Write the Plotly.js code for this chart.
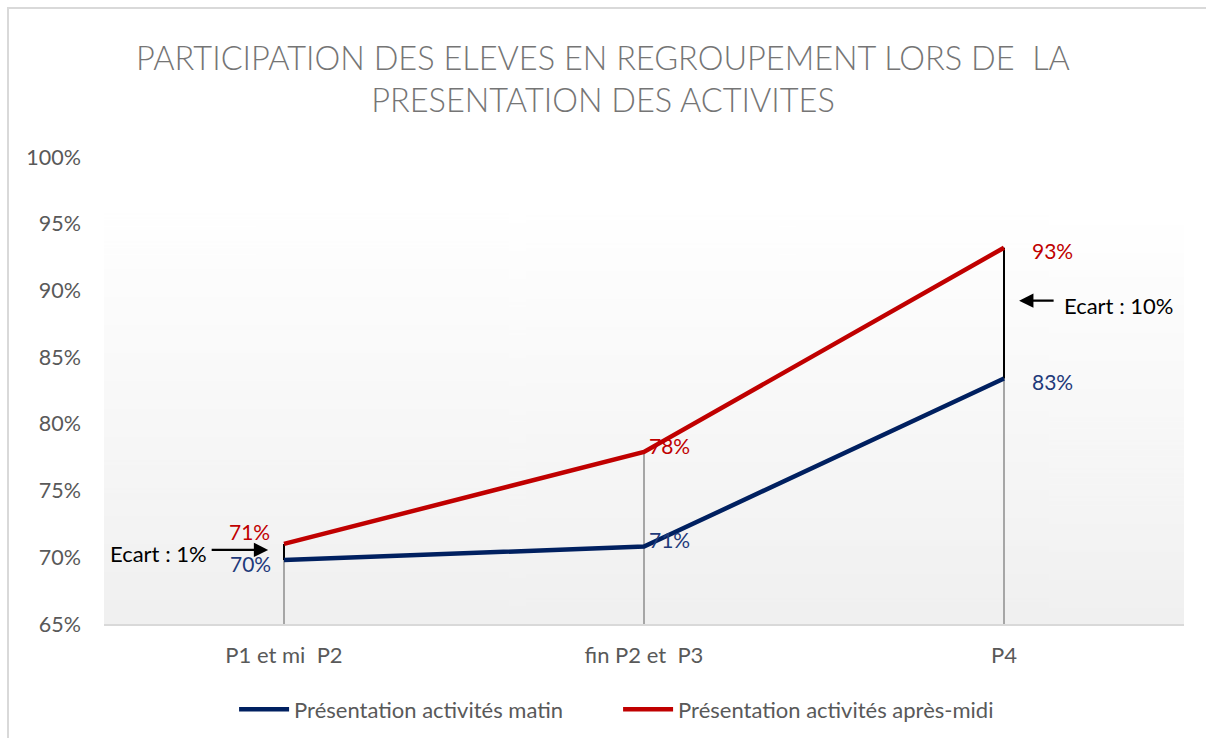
<!DOCTYPE html>
<html>
<head>
<meta charset="utf-8">
<script src="https://cdn.plot.ly/plotly-3.0.1.min.js"></script>
<style>
  html, body { margin: 0; padding: 0; background: #ffffff; }
  #chart { width: 1206px; height: 738px; }
</style>
</head>
<body>
<div id="chart"></div>
<script>
// ---- data ----
const categories = ['P1 et mi  P2', 'fin P2 et  P3', 'P4'];
const matin = [0.698, 0.708, 0.834];
const apresMidi = [0.710, 0.779, 0.932];
const seriesNames = ['Présentation activités matin', 'Présentation activités après-midi'];
const yTickVals = [0.65, 0.70, 0.75, 0.80, 0.85, 0.90, 0.95, 1.00];
const ecartLabels = ['Ecart : 1%', 'Ecart : 10%'];

// ---- styles ----
const BLUE = '#002060';
const RED = '#C00000';
const FONT = 'Lato, Carlito, "Open Sans", sans-serif';

// gradient background image for plot area
function gradientURL() {
  const c = document.createElement('canvas');
  c.width = 4; c.height = 400;
  const g = c.getContext('2d');
  const grd = g.createLinearGradient(0, 0, 0, 400);
  grd.addColorStop(0, '#ffffff');
  grd.addColorStop(0.12, '#ffffff');
  grd.addColorStop(1, '#f0f0f0');
  g.fillStyle = grd;
  g.fillRect(0, 0, 4, 400);
  return c.toDataURL();
}

const traces = [];

// drop lines from the highest value down to axis bottom
categories.forEach((c, i) => {
  traces.push({
    x: [c, c], y: [Math.max(matin[i], apresMidi[i]), yTickVals[0]],
    mode: 'lines', line: {color: '#a6a6a6', width: 2},
    showlegend: false, hoverinfo: 'skip'
  });
});
// high-low (écart) lines at first and last category
[0, categories.length - 1].forEach(i => {
  traces.push({
    x: [categories[i], categories[i]], y: [apresMidi[i], matin[i]],
    mode: 'lines', line: {color: '#000000', width: 2},
    showlegend: false, hoverinfo: 'skip'
  });
});

traces.push({
  x: categories, y: matin, name: seriesNames[0],
  mode: 'lines', line: {color: BLUE, width: 4.5}
});
traces.push({
  x: categories, y: apresMidi, name: seriesNames[1],
  mode: 'lines', line: {color: RED, width: 4.5}
});

// data labels
const annotations = [];
const matinShift = [[-11, -4, 'right'], [3, 7, 'left'], [26, -3, 'left']];
const apmShift = [[-12, 12, 'right'], [3, 6, 'left'], [26, -3, 'left']];
function pct(v) { return Math.round(v * 100) + '%'; }
categories.forEach((c, i) => {
  annotations.push({
    x: c, y: matin[i], text: pct(matin[i]), showarrow: false,
    xanchor: matinShift[i][2], xshift: matinShift[i][0], yshift: matinShift[i][1],
    font: {family: FONT, size: 21, color: '#1f3a7a'}
  });
  annotations.push({
    x: c, y: apresMidi[i], text: pct(apresMidi[i]), showarrow: false,
    xanchor: apmShift[i][2], xshift: apmShift[i][0], yshift: apmShift[i][1],
    font: {family: FONT, size: 21, color: RED}
  });
});

// écart arrows and texts
annotations.push({
  x: -0.044, y: 0.7055, xref: 'x', yref: 'y', text: '',
  showarrow: true, arrowhead: 2, arrowsize: 1.3, arrowwidth: 2.2, arrowcolor: '#000',
  ax: -58, ay: 0
});
annotations.push({
  x: 0.0037, y: 0.7032, xref: 'paper', yref: 'y', text: ecartLabels[0],
  showarrow: false, xanchor: 'left', font: {family: FONT, size: 22, color: '#000'}
});
annotations.push({
  x: 2.042, y: 0.8923, xref: 'x', yref: 'y', text: '',
  showarrow: true, arrowhead: 2, arrowsize: 1.3, arrowwidth: 2.2, arrowcolor: '#000',
  ax: 36, ay: 0
});
annotations.push({
  x: 0.887, y: 0.889, xref: 'paper', yref: 'y', text: ecartLabels[1],
  showarrow: false, xanchor: 'left', font: {family: FONT, size: 22, color: '#000'}
});

const layout = {
  width: 1206, height: 738,
  margin: {l: 104, r: 22, t: 157, b: 114, autoexpand: false},
  paper_bgcolor: '#ffffff',
  plot_bgcolor: 'rgba(0,0,0,0)',
  title: {
    text: 'PARTICIPATION DES ELEVES EN REGROUPEMENT LORS DE  LA<br>PRESENTATION DES ACTIVITES',
    font: {family: FONT, size: 32.5, color: '#757575', weight: 300},
    x: 0.5, xanchor: 'center', y: 0.905, yanchor: 'top'
  },
  xaxis: {
    type: 'category', range: [-0.5, 2.5],
    showgrid: false, zeroline: false,
    showline: true, linecolor: '#d9d9d9', linewidth: 2,
    ticks: '', tickfont: {family: FONT, size: 22, color: '#595959'},
    ticklabelstandoff: 11
  },
  yaxis: {
    range: [0.65, 1.0], tickvals: yTickVals, tickformat: '.0%',
    showgrid: false, zeroline: false, showline: false,
    ticks: '', tickfont: {family: FONT, size: 21.5, color: '#595959'},
    ticklabelstandoff: 22
  },
  showlegend: true,
  legend: {
    orientation: 'h', x: 0.476, xanchor: 'center', y: -0.138, yanchor: 'top',
    font: {family: FONT, size: 22, color: '#595959'},
    itemwidth: 50, entrywidth: 319, entrywidthmode: 'pixels',
    bgcolor: 'rgba(0,0,0,0)'
  },
  images: [{
    source: gradientURL(), xref: 'paper', yref: 'paper',
    x: 0, y: 1, sizex: 1, sizey: 1, sizing: 'stretch',
    xanchor: 'left', yanchor: 'top', layer: 'below'
  }],
  shapes: [{
    type: 'rect', xref: 'paper', yref: 'paper',
    x0: -0.0889, x1: 1.2, y0: -0.5, y1: 1.319,
    line: {color: '#d9d9d9', width: 2}, fillcolor: 'rgba(0,0,0,0)', layer: 'below'
  }],
  annotations: annotations
};

Plotly.newPlot('chart', traces, layout, {displayModeBar: false, staticPlot: true});
</script>
</body>
</html>
